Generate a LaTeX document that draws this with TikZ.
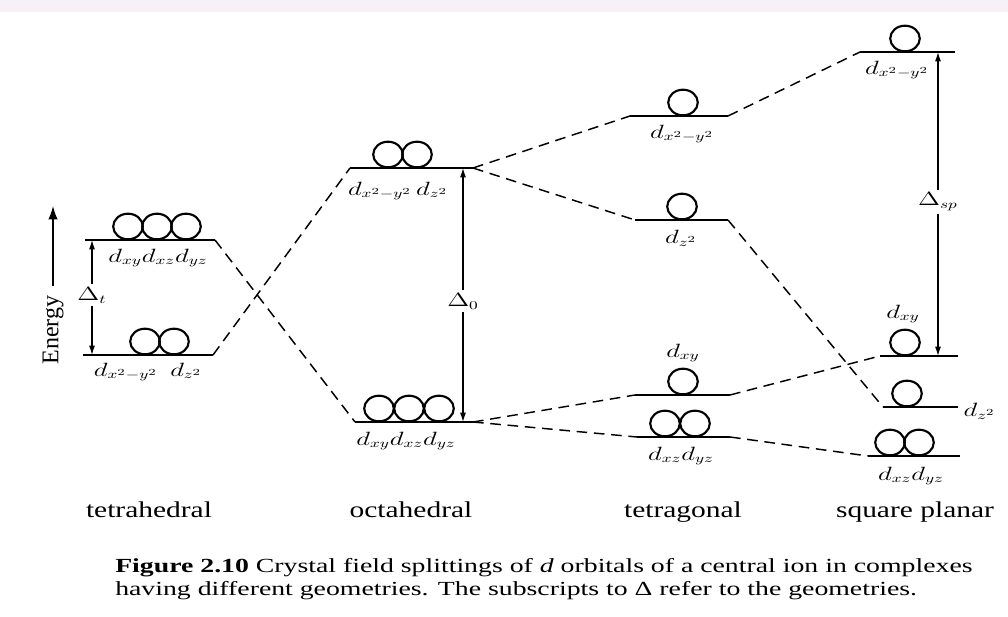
\documentclass[tikz,border=0pt]{standalone}
\usepackage{fontspec}
\setmainfont{Liberation Serif}
\usetikzlibrary{arrows.meta}
\newcommand\sx[1]{\scalebox{1.4}[1]{#1}}
\newcommand\sy[1]{\scalebox{1.3}[1]{#1}}
\newcommand\orbit[2]{\draw[orb] (#1,#2) ++(0,-13.5) ellipse [x radius=11.1pt, y radius=9.6pt];}
\newsavebox\capA
\newsavebox\capB
\tikzset{
 lvl/.style={line width=1.5pt},
 orb/.style={line width=1.6pt},
 conn/.style={dash pattern=on 8pt off 5pt, line width=1.1pt},
 arr/.style={-{Latex[length=7pt,width=4.5pt]}, line width=0.9pt},
 lab/.style={inner sep=1pt, font=\fontsize{13.5}{16}\selectfont},
 dlab/.style={inner sep=2pt, font=\fontsize{13.5}{16}\selectfont},
 geo/.style={inner sep=0pt, font=\fontsize{17}{20}\selectfont, anchor=base},
 captext/.style={inner sep=0pt, anchor=base west},
}
\begin{document}
\sbox\capA{\fontsize{15}{18}\selectfont\textbf{Figure 2.10} Crystal field splittings of \textit{d} orbitals of a central ion in complexes}%
\sbox\capB{\fontsize{15}{18}\selectfont having different geometries. The subscripts to Δ refer to the geometries.}%
\pgfmathsetmacro\capf{643/\wd\capA}%
\begin{tikzpicture}[x=0.75pt,y=-0.75pt]
\useasboundingbox (0,0) rectangle (1008,617);
\fill[violet!6] (0,0) rectangle (1008,12);

% ---------- level coordinates ----------
\coordinate (tUl) at (85,240);  \coordinate (tUr) at (215,240);
\coordinate (tLl) at (83,355);  \coordinate (tLr) at (213,355);
\coordinate (oUl) at (350,168); \coordinate (oUr) at (473,168);
\coordinate (oLl) at (355,422); \coordinate (oLr) at (473,422);
\coordinate (gAl) at (630,116); \coordinate (gAr) at (728,116);
\coordinate (gZl) at (635,220); \coordinate (gZr) at (728,220);
\coordinate (gYl) at (635,395); \coordinate (gYr) at (730,395);
\coordinate (gXl) at (637,437); \coordinate (gXr) at (730,437);
\coordinate (sAl) at (860,52);  \coordinate (sAr) at (955,52);
\coordinate (sYl) at (880,356); \coordinate (sYr) at (958,356);
\coordinate (sZl) at (883,407); \coordinate (sZr) at (958,407);
\coordinate (sXl) at (868,456); \coordinate (sXr) at (960,456);

% ---------- levels ----------
\foreach \a/\b in {tUl/tUr,tLl/tLr,oUl/oUr,oLl/oLr,gAl/gAr,gZl/gZr,gYl/gYr,gXl/gXr,sAl/sAr,sYl/sYr,sZl/sZr,sXl/sXr}
  \draw[lvl] (\a) -- (\b);

% ---------- orbitals ----------
\orbit{128}{240}\orbit{157}{240}\orbit{186}{240}
\orbit{145}{355}\orbit{174}{355}
\orbit{388}{168}\orbit{417}{168}
\orbit{379}{422}\orbit{409}{422}\orbit{439}{422}
\orbit{683}{116}
\orbit{682}{220}
\orbit{683}{395}
\orbit{665}{437}\orbit{695}{437}
\orbit{905}{52}
\orbit{905}{356}
\orbit{907}{407}
\orbit{890}{456}\orbit{919}{456}

% ---------- connectors ----------
\draw[conn] (tUr) -- (oLl);
\draw[conn] (tLr) -- (oUl);
\draw[conn] (oUr) -- (gAl);
\draw[conn] (oUr) -- (gZl);
\draw[conn] (oLr) -- (gYl);
\draw[conn] (oLr) -- (gXl);
\draw[conn] (gAr) -- (sAl);
\draw[conn] (gZr) -- (sZl);
\draw[conn] (gYr) -- (sYl);
\draw[conn] (gXr) -- (sXl);

% ---------- orbital labels ----------
\node[lab] (l1) at (158,258) {\sx{$d_{xy}d_{xz}d_{yz}$}};
\node[lab] (l2) at (148,372) {\sx{$d_{x^2-y^2}\enspace d_{z^2}$}};
\node[lab] (l3) at (398,191) {\sx{$d_{x^2-y^2}\,d_{z^2}$}};
\node[lab] (l4) at (406,441) {\sx{$d_{xy}d_{xz}d_{yz}$}};
\node[lab] (l5) at (682,134) {\sx{$d_{x^2-y^2}$}};
\node[lab] (l6) at (681,238) {\sx{$d_{z^2}$}};
\node[lab] (l7) at (683,353) {\sx{$d_{xy}$}};
\node[lab] (l8) at (681,456) {\sx{$d_{xz}d_{yz}$}};
\node[lab] (l9) at (897,70) {\sx{$d_{x^2-y^2}$}};
\node[lab] (l10) at (903,314) {\sx{$d_{xy}$}};
\node[lab,anchor=west] (l11) at (962,411) {\sx{$d_{z^2}$}};
\node[lab] (l12) at (911,476) {\sx{$d_{xz}d_{yz}$}};

% ---------- splitting arrows ----------
\coordinate (dtT) at (92,240); \coordinate (dtB) at (92,355);
\node[dlab] (dt) at (92,295) {\sx{$\Delta_t$}};
\draw[arr] (dt.north) -- (dtT);
\draw[arr] (dt.south) -- (dtB);

\coordinate (doT) at (463,168); \coordinate (doB) at (463,422);
\node[dlab] (do) at (463,301) {\sx{$\Delta_0$}};
\draw[arr] (do.north) -- (doT);
\draw[arr] (do.south) -- (doB);

\coordinate (dsT) at (938,52); \coordinate (dsB) at (938,356);
\node[dlab] (ds) at (938,202) {\sx{$\Delta_{sp}$}};
\draw[arr] (ds.north) -- (dsT);
\draw[arr] (ds.south) -- (dsB);

% ---------- energy axis ----------
\coordinate (eB) at (53,286); \coordinate (eT) at (53,206);
\draw[-{Latex[length=10pt,width=7pt]}, line width=1pt] (eB) -- (eT);
\node[inner sep=0pt, rotate=90, font=\fontsize{18}{21}\selectfont] (en) at (53,330) {Energy};

% ---------- geometry names ----------
\node[geo] (g1) at (149,517) {\sy{tetrahedral}};
\node[geo] (g2) at (411,517) {\sy{octahedral}};
\node[geo] (g3) at (683,517) {\sy{tetragonal}};
\node[geo] (g4) at (915,517) {\sy{square planar}};

% ---------- caption ----------
\node[captext] (c1) at (115,572) {\scalebox{\capf}[1]{\usebox\capA}};
\node[captext] (c2) at (115,595) {\scalebox{\capf}[1]{\usebox\capB}};
\end{tikzpicture}
\end{document}
